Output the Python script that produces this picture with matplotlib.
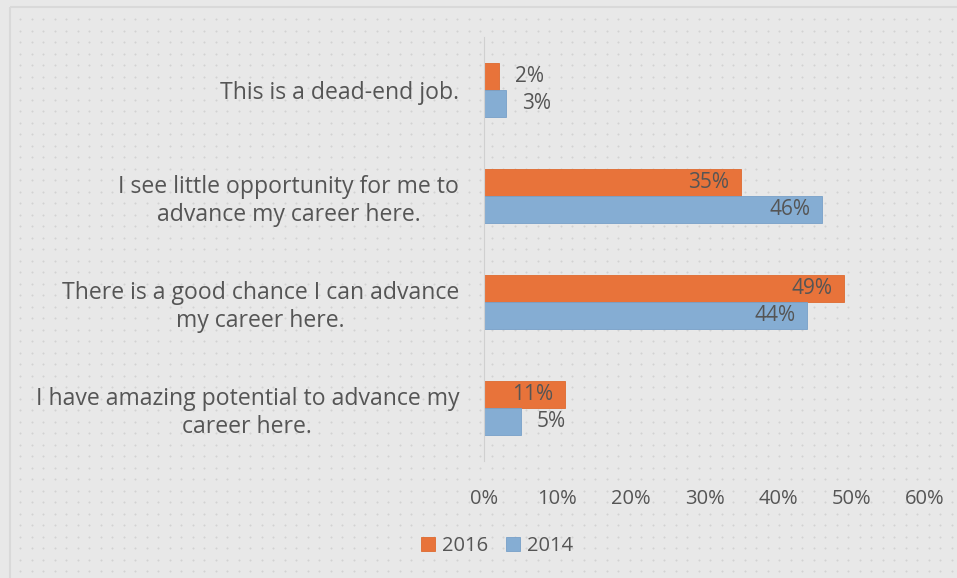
import matplotlib
matplotlib.use("Agg")
import matplotlib.pyplot as plt
import numpy as np
from matplotlib.patches import Rectangle

categories = ["This is a dead-end job.",
              "I see little opportunity for me to\nadvance my career here.",
              "There is a good chance I can advance\nmy career here.",
              "I have amazing potential to advance my\ncareer here."]
series_2016 = [2, 35, 49, 11]
series_2014 = [3, 46, 44, 5]
xticks = [0, 10, 20, 30, 40, 50, 60]
xticklabels = ["0%", "10%", "20%", "30%", "40%", "50%", "60%"]

plt.rcParams['font.family'] = ['Open Sans', 'DejaVu Sans']
W, H = 957, 578
fig = plt.figure(figsize=(W / 100, H / 100), dpi=100, facecolor="#e8e8e8")

# background dot pattern
bg = fig.add_axes([0, 0, 1, 1], zorder=-10)
bg.set_xlim(0, W); bg.set_ylim(H, 0); bg.axis("off")
gx, gy = np.meshgrid(np.arange(20, W, 11.5), np.arange(19, H, 11.5))
bg.scatter(gx.ravel(), gy.ravel(), s=2.2, color="#d2d2d2", linewidths=0)
bg.add_patch(Rectangle((10, 7), W, H, fill=False, edgecolor="#d9d9d9", lw=1.5))

ax = fig.add_axes([484 / W, 1 - 461 / H, 441 / W, 424 / H])
ax.set_facecolor("none")
y = np.arange(len(categories))
h = 0.255
orange = "#E8733A"
blue = "#85ADD3"
ax.barh(y - h / 2, series_2016, height=h, color=orange, edgecolor="#de6a2e", lw=0.6, label="2016")
ax.barh(y + h / 2, series_2014, height=h, color=blue, edgecolor="#77a0c8", lw=0.6, label="2014")

txtc = "#555555"
for vals, off in ((series_2016, -h / 2), (series_2014, h / 2)):
    for i, v in enumerate(vals):
        if v >= 10:
            ax.text(v - 1.6, i + off, f"{v}%", ha="right", va="center", fontsize=15, color=txtc)
        else:
            ax.text(v + 2.2, i + off, f"{v}%", ha="left", va="center", fontsize=15, color=txtc)

ax.set_xlim(0, 60)
ax.set_ylim(3.5, -0.5)
ax.set_xticks(xticks)
ax.set_xticklabels(xticklabels, fontsize=14.5, color=txtc)
ax.set_yticks(y)
ax.set_yticklabels(categories, fontsize=16.6, color=txtc, ha="right", linespacing=1.2)
for lab in ax.get_yticklabels():
    lab.set_multialignment("center")
ax.tick_params(axis="both", length=0)
ax.tick_params(axis="y", pad=18)
ax.tick_params(axis="x", pad=20)
for s in ["top", "right", "bottom"]:
    ax.spines[s].set_visible(False)
ax.spines["left"].set_color("#d0d0d0")

handles, labels = ax.get_legend_handles_labels()
fig.legend(handles, labels, loc="center", bbox_to_anchor=(497 / W, 1 - 546 / H), ncol=2,
           frameon=False, fontsize=14.5, handlelength=0.7, handleheight=0.7,
           handletextpad=0.35, columnspacing=0.9, labelcolor=txtc)

fig.savefig("out.png", dpi=100, facecolor=fig.get_facecolor())
